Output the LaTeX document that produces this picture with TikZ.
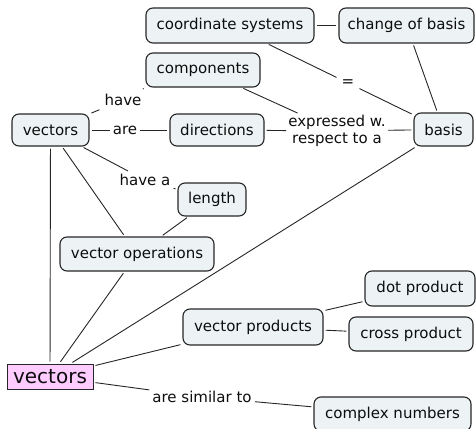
\documentclass[tikz,border=0pt]{standalone}
\usepackage{fontspec}
\setmainfont{DejaVu Sans}
\begin{document}
\begin{tikzpicture}[x=1pt,y=-1pt,
  concept/.style={draw=black!85, line width=1.1pt, rounded corners=7pt,
    fill={rgb,255:red,237;green,243;blue,245}, inner sep=0pt,
    font=\fontsize{15}{17}\selectfont, text=black!95},
  rootbox/.style={draw=black!85, line width=1pt,
    fill={rgb,255:red,255;green,204;blue,255}, inner sep=0pt,
    font=\fontsize{20}{22}\selectfont, text=black!95},
  linker/.style={inner sep=3pt, font=\fontsize{15}{17}\selectfont, text=black!95, align=center},
  link/.style={draw=black!85, line width=0.9pt, shorten <=2pt, shorten >=2pt},
  tolink/.style={draw=black!85, line width=0.9pt, shorten <=2pt},
  fromlink/.style={draw=black!85, line width=0.9pt, shorten >=2pt}]
\useasboundingbox (0,0) rectangle (476,428);

% concepts
\node[concept, minimum width=168pt, minimum height=35pt] (coord) at (230,25.5) {coordinate systems};
\node[concept, minimum width=135pt, minimum height=35pt] (change) at (406.5,25.5) {change of basis};
\node[concept, minimum width=114pt, minimum height=34pt] (comp) at (203,70) {components};
\node[concept, minimum width=77pt, minimum height=32pt] (vtop) at (50.5,130) {vectors};
\node[concept, minimum width=94pt, minimum height=32pt] (dir) at (217,130) {directions};
\node[concept, minimum width=59pt, minimum height=33pt] (basis) at (443.5,129.5) {basis};
\node[concept, minimum width=68pt, minimum height=33pt] (len) at (212,199.5) {length};
\node[concept, minimum width=154pt, minimum height=34pt] (ops) at (137,254) {vector operations};
\node[concept, minimum width=140pt, minimum height=36pt] (prod) at (253,327) {vector products};
\node[concept, minimum width=110pt, minimum height=35pt] (dot) at (420,288.5) {dot product};
\node[concept, minimum width=124pt, minimum height=34pt] (cross) at (411,334) {cross product};
\node[concept, minimum width=157pt, minimum height=34pt] (cplx) at (392.5,414) {complex numbers};
\node[rootbox, minimum width=86pt, minimum height=25pt] (root) at (50,376.5) {vectors};

% linking phrases
\node[linker, inner sep=5pt] (lhave) at (123,100) {have};
\node[linker] (lare) at (125,130) {are};
\node[linker] (lhavea) at (145,180) {have a};
\node[linker, inner sep=2pt] (lexp) at (337,131) {expressed w.\\[0pt]respect to a};
\node[linker, inner sep=5pt] (leq) at (348,83) {=};
\node[linker, inner sep=3pt] (lsim) at (202,397) {are similar to};

% connectors through linking phrases
\draw[tolink] (vtop) -- (lhave);
\draw[fromlink] (lhave) -- (comp.south west);
\draw[tolink] (vtop) -- (lare);
\draw[fromlink] (lare) -- (dir);
\draw[tolink] (vtop) -- (lhavea);
\draw[fromlink] (lhavea) -- (len);
\draw[tolink] (dir) -- (lexp);
\draw[tolink] (comp) -- (lexp);
\draw[fromlink] (lexp) -- (basis);
\draw[tolink] (coord) -- (leq);
\draw[fromlink] (leq) -- (basis);
\draw[tolink] (root) -- (lsim);
\draw[fromlink] (lsim) -- (cplx);

% direct connectors
\draw[link] (coord) -- (change);
\draw[link] (change) -- (basis);
\draw[link] (basis) -- (root);
\draw[link] (vtop) -- (root);
\draw[link] (vtop) -- (ops);
\draw[link] (len) -- (ops);
\draw[link] (ops) -- (root);
\draw[link] (prod) -- (root);
\draw[link] (prod) -- (dot);
\draw[link] (prod) -- (cross);
\end{tikzpicture}
\end{document}
